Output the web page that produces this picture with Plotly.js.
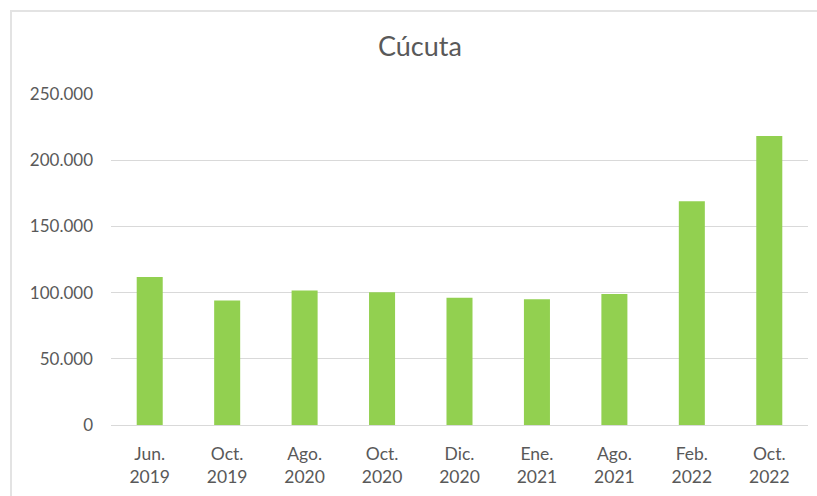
<!DOCTYPE html>
<html>
<head>
<meta charset="utf-8">
<script src="https://cdn.plot.ly/plotly-3.0.1.min.js"></script>
<style>
  html, body { margin: 0; padding: 0; background: #ffffff; overflow: hidden; }
  #frame { position: absolute; left: 10px; top: 10px; width: 820px; height: 500px; border: 2px solid #e3e3e3; box-sizing: border-box; }
  #chart { position: absolute; left: 0; top: 0; width: 817px; height: 496px; }
</style>
</head>
<body>
<div id="frame"></div>
<div id="chart"></div>
<script>
const categories = ["Jun.<br>2019", "Oct.<br>2019", "Ago.<br>2020", "Oct.<br>2020", "Dic.<br>2020", "Ene.<br>2021", "Ago.<br>2021", "Feb.<br>2022", "Oct.<br>2022"];
const values = [111800, 94000, 101500, 100300, 96100, 95000, 99000, 169000, 218200];
const yTicks = [0, 50000, 100000, 150000, 200000, 250000];

const trace = {
  type: "bar",
  x: categories,
  y: values,
  marker: { color: "#92d050" },
  hoverinfo: "x+y"
};

const layout = {
  width: 817,
  height: 496,
  margin: { l: 111, r: 9, t: 94, b: 71 },
  paper_bgcolor: "rgba(0,0,0,0)",
  plot_bgcolor: "rgba(0,0,0,0)",
  separators: ",.",
  bargap: 0.664,
  showlegend: false,
  font: { family: "Lato, 'Open Sans', sans-serif", color: "#595959", size: 17 },
  title: {
    text: "Cúcuta",
    font: { family: "Lato, 'Open Sans', sans-serif", size: 27, color: "#595959" },
    xref: "container", x: 0.514, xanchor: "center",
    yref: "container", y: 1 - 47 / 496, yanchor: "middle"
  },
  xaxis: {
    type: "category",
    showgrid: false,
    showline: true,
    linecolor: "#d9d9d9",
    linewidth: 1,
    ticks: "",
    ticklabelstandoff: 13,
    tickfont: { size: 17.5, color: "#595959" },
    fixedrange: true
  },
  yaxis: {
    range: [0, 250000],
    tickvals: yTicks,
    tickformat: ",d",
    showgrid: true,
    gridcolor: "#d9d9d9",
    gridwidth: 1,
    zeroline: false,
    showline: false,
    ticks: "",
    ticklabelstandoff: 17,
    tickfont: { size: 17, color: "#595959" },
    fixedrange: true
  }
};

Plotly.newPlot("chart", [trace], layout, { displayModeBar: false, staticPlot: true });
</script>
</body>
</html>
